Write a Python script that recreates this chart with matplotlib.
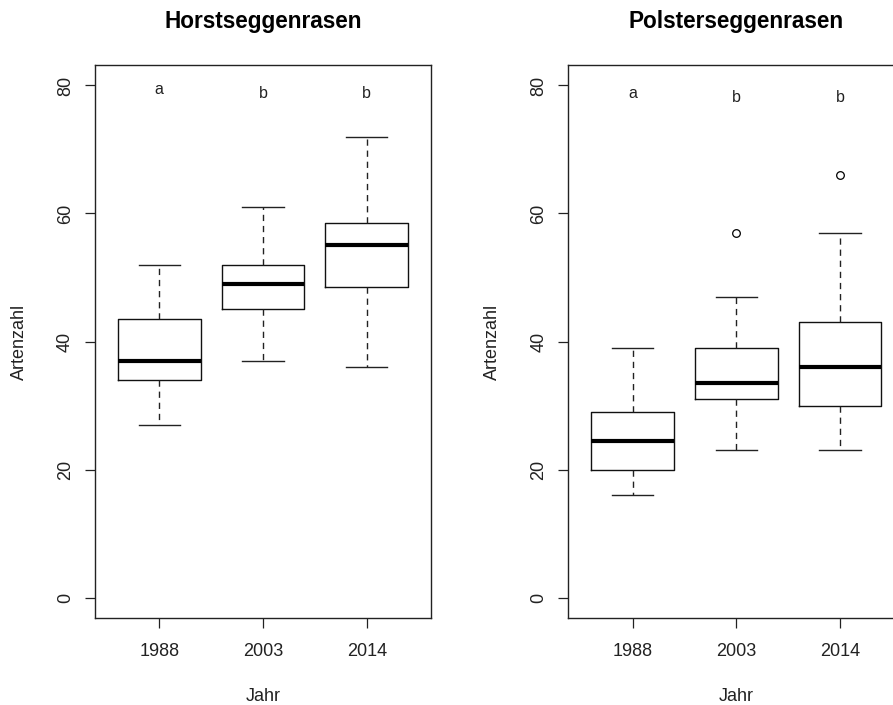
import matplotlib
matplotlib.use("Agg")
import matplotlib.pyplot as plt

plt.rcParams['font.family'] = ['Liberation Sans', 'DejaVu Sans']

years = ["1988", "2003", "2014"]

# Horstseggenrasen
h_whislo = [27, 37, 36]
h_q1 = [34, 45, 48.5]
h_med = [37, 49, 55]
h_q3 = [43.5, 52, 58.5]
h_whishi = [52, 61, 72]
h_fliers = [[], [], []]
h_letters = ["a", "b", "b"]
h_letter_y = [78.6, 78.0, 78.0]

# Polsterseggenrasen
p_whislo = [16, 23, 23]
p_q1 = [20, 31, 30]
p_med = [24.5, 33.5, 36]
p_q3 = [29, 39, 43]
p_whishi = [39, 47, 57]
p_fliers = [[], [57], [66]]
p_letters = ["a", "b", "b"]
p_letter_y = [78.0, 77.4, 77.4]

titles = ["Horstseggenrasen", "Polsterseggenrasen"]
yticks = [0, 20, 40, 60, 80]

W, H = 893, 705
fig = plt.figure(figsize=(W / 100, H / 100), dpi=100)

ax_w = 336 / W
ax_h = (618 - 65) / H
ax_b = 1 - 618 / H
lefts = [95 / W, 568.3 / W]

panels = [
    (h_whislo, h_q1, h_med, h_q3, h_whishi, h_fliers, h_letters, h_letter_y),
    (p_whislo, p_q1, p_med, p_q3, p_whishi, p_fliers, p_letters, p_letter_y),
]

for i, (wl, q1, med, q3, wh, fl, letters, ly) in enumerate(panels):
    ax = fig.add_axes([lefts[i], ax_b, ax_w, ax_h])
    stats = []
    for j in range(len(years)):
        stats.append(dict(med=med[j], q1=q1[j], q3=q3[j], whislo=wl[j],
                          whishi=wh[j], fliers=fl[j], label=years[j]))
    ax.bxp(stats, positions=[1, 2, 3], widths=0.8, showfliers=True,
           boxprops=dict(color='#111111', linewidth=1.0),
           medianprops=dict(color='black', linewidth=3.0, solid_capstyle='butt'),
           whiskerprops=dict(color='#222222', linewidth=1.0, linestyle=(0, (4.5, 3.5))),
           capprops=dict(color='#222222', linewidth=1.0),
           capwidths=0.4,
           flierprops=dict(marker='o', markerfacecolor='none',
                           markeredgecolor='black', markersize=5.5,
                           markeredgewidth=0.9))
    ax.set_xlim(0.38, 3.62)
    ax.set_ylim(-3.2, 83.2)
    ax.set_yticks(yticks)
    ax.set_yticklabels([str(v) for v in yticks], rotation=90, va='center')
    ax.set_xticks([1, 2, 3])
    ax.set_xticklabels(years)
    ax.tick_params(axis='both', direction='out', length=7.2, width=0.9,
                   labelsize=13, color='#222222', labelcolor='#222222')
    ax.tick_params(axis='x', pad=11)
    ax.tick_params(axis='y', pad=8)
    for sp in ax.spines.values():
        sp.set_linewidth(1.0)
        sp.set_color('#222222')
    for j in range(len(years)):
        ax.text(j + 1, ly[j], letters[j], ha='center', va='baseline',
                fontsize=11.5, color='#222222')
    ax.set_xlabel("Jahr", fontsize=13, color='#222222', va='baseline')
    ax.xaxis.set_label_coords(0.5, (618 - 701) / 553)
    ax.set_ylabel("Artenzahl", fontsize=13, color='#222222', va='center')
    ax.yaxis.set_label_coords(-76 / 336, 0.5)
    ax.text(0.5, (618 - 28) / 553, titles[i], transform=ax.transAxes,
            ha='center', va='baseline', fontsize=16.3, fontweight='bold',
            color='black')

fig.savefig("out.png", dpi=100)
